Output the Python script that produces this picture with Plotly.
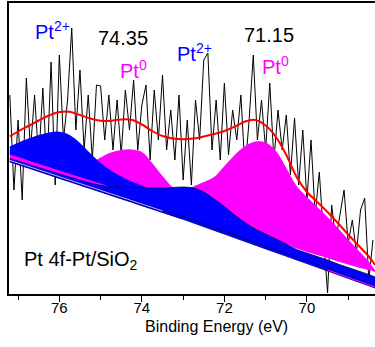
import numpy as np
import plotly.graph_objects as go

# ---------------- data (intensity in a.u.) ----------------
# energy grid for fitted curves (eV)
fit_energy = [77.2, 77.0, 76.75, 76.5, 76.25, 76.0, 75.75, 75.5, 75.25, 75.0,
              74.75, 74.5, 74.25, 74.0, 73.75, 73.5, 73.25, 73.0, 72.75, 72.5,
              72.25, 72.0, 71.75, 71.5, 71.25, 71.0, 70.75, 70.5, 70.25, 70.0,
              69.75, 69.5, 69.25, 69.0, 68.75, 68.5, 68.35]

background = [132.0, 129.3, 125.9, 122.5, 119.1, 115.6, 112.2, 108.8, 105.4, 102.0,
              98.6, 95.2, 91.8, 88.3, 84.9, 81.5, 78.1, 74.7, 71.0, 67.3,
              63.6, 59.9, 56.2, 52.5, 48.8, 45.1, 41.4, 37.8, 34.1, 30.4,
              26.7, 23.0, 19.3, 15.6, 11.9, 8.2, 6.0]

# Pt2+ 4f5/2 component (points 1-17)
pt2_76_top = [147.6, 151.3, 155.5, 159.0, 161.6, 162.3, 159.1, 151.1, 140.8, 131.0,
              123.5, 117.5, 112.5, 108.5, 104.5, 100.5, 97.0]
pt2_76_base = [139.5, 136.9, 133.6, 130.3, 127.0, 123.6, 120.3, 117.0, 113.7, 110.4,
               107.1, 103.7, 100.3, 96.8, 93.4, 90.0, 86.6]

# Pt0 4f5/2 component (points 1-18)
pt0_74_top = [144, 142, 139, 136, 133, 130, 128, 128, 131, 136.5,
              141.5, 144, 144.5, 142, 131, 118, 106.5, 99]

# Pt2+ 4f7/2 component (all points)
pt2_72_top = [135.5, 133.0, 129.8, 126.5, 123.3, 120.1, 117.0, 114.0, 111.0, 108.7,
              107.2, 107.0, 106.5, 106.0, 106.0, 106.0, 106.5, 107.0, 106.0, 102.0,
              95.0, 87.5, 79.0, 71.5, 65.0, 60.0, 55.0, 50.0, 44.5, 41.0,
              37.5, 34.0, 30.0, 26.5, 23.0, 19.5, 17.0]

# Pt0 4f7/2 component (points 18-37)
pt0_71_top = [102, 107.5, 112, 117, 128, 139, 148, 152.5, 151.5, 143,
              126, 108, 97, 87, 77, 66, 54.5, 43.5, 32.5, 24]
pt0_71_base = [104, 103, 99, 92, 84.5, 76, 68.5, 62, 57, 52,
               50, 45.5, 42, 39, 36, 32.5, 29.5, 26.5, 24, 22]

# fitted envelope
envelope = [157.6, 162.5, 168, 173.5, 178.5, 182, 182.3, 179, 175.5, 173.3,
            173.3, 174.5, 174.2, 169.5, 163, 158, 155.5, 154.7, 155.5, 157.5,
            160, 163, 167.3, 172.5, 174, 168.5, 157, 139, 117, 102,
            92, 82, 71, 59.5, 48.5, 37.5, 29]

# raw spectrum (77.2 -> 68.4 eV, 0.1 eV step)
raw_energy = np.round(np.linspace(77.2, 68.4, 89), 2)
raw_counts = [199, 104, 174, 94, 216, 144, 199, 134, 206, 124,
              232, 109, 239, 154, 194, 266, 164, 224, 144, 199,
              134, 209, 208, 154, 199, 144, 194, 139, 204, 164,
              214, 144, 189, 209, 134, 204, 154, 219, 144, 184,
              134, 199, 114, 174, 109, 194, 154, 234, 241, 144,
              194, 134, 211, 139, 184, 154, 199, 124, 174, 239,
              154, 194, 144, 211, 134, 184, 144, 179, 119, 176,
              109, 164, 94, 154, 79, 122, 59, 1, 89, 54,
              79, 104, 51, 74, 41, 84, 96, 14, 54]

BLUE = "#0000FF"
PINK = "#FF00FF"
NAVY = "#000060"
FONT = "Liberation Sans, Arial, sans-serif"

fig = go.Figure()

# raw data drawn first (fills cover it)
fig.add_trace(go.Scatter(x=raw_energy, y=raw_counts, mode="lines",
                         line=dict(color="black", width=1), hoverinfo="skip"))

def band(x, low, high, color, line_color=None, lw=0):
    fig.add_trace(go.Scatter(x=x, y=low, mode="lines", line=dict(width=0, shape="spline"),
                             hoverinfo="skip"))
    fig.add_trace(go.Scatter(x=x, y=high, mode="lines", fill="tonexty", fillcolor=color,
                             line=dict(width=lw, color=line_color or color, shape="spline"),
                             hoverinfo="skip"))

e = fit_energy
band(e[:18], background[:18], pt0_74_top, PINK)
band(e[17:], pt0_71_base, pt0_71_top, PINK)
band(e[:17], pt2_76_base, pt2_76_top, BLUE)
band(e, background, pt2_72_top, BLUE, NAVY, 0.8)

# baseline decorations
fig.add_trace(go.Scatter(x=e[:16], y=[b + 1.7 for b in background[:16]], mode="lines",
                         line=dict(color="white", width=0.7, shape="spline"), hoverinfo="skip"))
fig.add_trace(go.Scatter(x=e[9:], y=[b + 3 for b in background[9:]], mode="lines",
                         line=dict(color=NAVY, width=0.7, shape="spline"), hoverinfo="skip"))
fig.add_trace(go.Scatter(x=e, y=background, mode="lines",
                         line=dict(color=NAVY, width=0.8, shape="spline"), hoverinfo="skip"))
fig.add_trace(go.Scatter(x=e[31:], y=[b + 1 for b in background[31:]], mode="lines",
                         line=dict(color=PINK, width=1), hoverinfo="skip"))

# envelope
fig.add_trace(go.Scatter(x=e, y=envelope, mode="lines",
                         line=dict(color="#FF0000", width=2, shape="spline"), hoverinfo="skip"))

ann = [
    dict(x=76.64, y=264, text="Pt<sup>2+</sup>", color=BLUE, xanchor="left"),
    dict(x=74.46, y=256, text="74.35", color="black", xanchor="center"),
    dict(x=74.58, y=224.5, text="Pt<sup>0</sup>", color=PINK, xanchor="left"),
    dict(x=73.20, y=242, text="Pt<sup>2+</sup>", color=BLUE, xanchor="left"),
    dict(x=70.92, y=259, text="71.15", color="black", xanchor="center"),
    dict(x=71.14, y=228.5, text="Pt<sup>0</sup>", color=PINK, xanchor="left"),
    dict(x=76.90, y=34, text="Pt 4f-Pt/SiO<sub>2</sub>", color="black", xanchor="left"),
]
for a in ann:
    fig.add_annotation(x=a["x"], y=a["y"], xref="x", yref="y", text=a["text"],
                       showarrow=False, xanchor=a["xanchor"], yanchor="middle",
                       font=dict(family=FONT, size=20, color=a["color"]))

fig.add_annotation(x=0.567, y=-0.1134, xref="paper", yref="paper",
                   text="Binding Energy (eV)", showarrow=False,
                   xanchor="center", yanchor="middle",
                   font=dict(family=FONT, size=16, color="black"))

fig.update_layout(
    width=375, height=347,
    margin=dict(l=9, r=0, t=3, b=53),
    plot_bgcolor="white", paper_bgcolor="white",
    showlegend=False,
    font=dict(family=FONT, color="black"),
    xaxis=dict(range=[77.22, 68.35], showline=True, linecolor="black", linewidth=1.5,
               mirror=True, ticks="outside", ticklen=6, tickwidth=1.3, tickcolor="black",
               tick0=70, dtick=2, showgrid=False, zeroline=False,
               ticklabelstandoff=-7,
               tickfont=dict(family=FONT, size=15, color="black"),
               minor=dict(dtick=1, ticks="outside", ticklen=4, tickwidth=1.2,
                          tickcolor="black", showgrid=False)),
    yaxis=dict(range=[0, 291], showline=True, linecolor="black", linewidth=1.5,
               ticks="", showticklabels=False, showgrid=False, zeroline=False),
)

fig.write_html("out.html")
